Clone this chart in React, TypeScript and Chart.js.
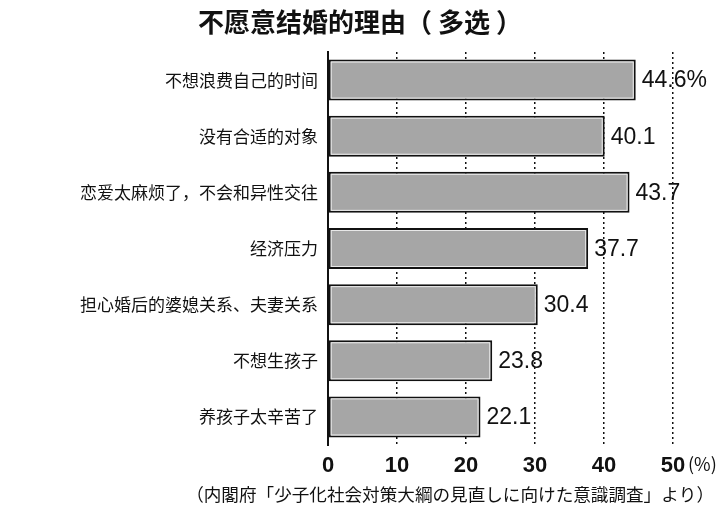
import React, { useEffect, useRef } from "react";
import { Chart, registerables } from "chart.js";

Chart.register(...registerables);

const titleText = "不愿意结婚的理由（ 多选 ）";
const sourceText = "（内閣府「少子化社会対策大綱の見直しに向けた意識調査」より）";

const reasons = [
  "不想浪费自己的时间",
  "没有合适的对象",
  "恋爱太麻烦了，不会和异性交往",
  "经济压力",
  "担心婚后的婆媳关系、夫妻关系",
  "不想生孩子",
  "养孩子太辛苦了",
];
const shares = [44.6, 40.1, 43.7, 37.7, 30.4, 23.8, 22.1];
const valueLabels = ["44.6%", "40.1", "43.7", "37.7", "30.4", "23.8", "22.1"];
const xTicks = [0, 10, 20, 30, 40, 50];

const CJK = "'Noto Sans CJK SC', 'Noto Sans', sans-serif";
const LATIN = "'Liberation Sans', Arial, sans-serif";

const decorations = {
  id: "decorations",
  afterDatasetsDraw(chart: Chart) {
    const ctx = chart.ctx;
    const meta = chart.getDatasetMeta(0);
    ctx.save();
    // thin light line just inside each bar's border
    ctx.strokeStyle = "rgba(255,255,255,0.75)";
    ctx.lineWidth = 1;
    meta.data.forEach((bar) => {
      const p = bar.getProps(["x", "y", "base", "height"], true) as {
        x: number; y: number; base: number; height: number;
      };
      const top = p.y - p.height / 2;
      ctx.strokeRect(p.base + 2.5, top + 2.5, p.x - p.base - 5, p.height - 5);
    });
    // value labels at bar ends
    ctx.font = `23px ${LATIN}`;
    ctx.fillStyle = "#111";
    ctx.textAlign = "left";
    ctx.textBaseline = "middle";
    meta.data.forEach((bar, i) => {
      const p = bar.getProps(["x", "y"], true) as { x: number; y: number };
      ctx.fillText(valueLabels[i], p.x + 6, p.y + 1);
    });
    ctx.restore();
  },
  afterDraw(chart: Chart) {
    const ctx = chart.ctx;
    const xs = chart.scales.x;
    ctx.save();
    ctx.fillStyle = "#111";
    ctx.textBaseline = "middle";
    ctx.textAlign = "center";
    ctx.font = `bold 26px ${CJK}`;
    ctx.fillText(titleText, 360, 22);
    ctx.font = `18px ${CJK}`;
    ctx.textAlign = "left";
    ctx.fillText("(%)", xs.getPixelForValue(50) + 15, 464);
    ctx.font = `17.6px 'Noto Sans CJK JP', ${CJK}`;
    ctx.textAlign = "right";
    ctx.fillText(sourceText, 714, 494);
    ctx.restore();
  },
};

export default function App(): React.ReactElement {
  const canvasRef = useRef<HTMLCanvasElement | null>(null);

  useEffect(() => {
    document.body.style.margin = "0";
    if (!canvasRef.current) return;
    const chart = new Chart(canvasRef.current, {
      type: "bar",
      data: {
        labels: reasons,
        datasets: [
          {
            data: shares,
            backgroundColor: "#a6a6a6",
            borderColor: "#111",
            borderWidth: 2,
            borderSkipped: false,
            barPercentage: 0.73,
            categoryPercentage: 1,
          },
        ],
      },
      options: {
        indexAxis: "y",
        responsive: false,
        animation: false,
        devicePixelRatio: 1,
        layout: { padding: { top: 52, right: 47, bottom: 0, left: 0 } },
        plugins: {
          legend: { display: false },
          tooltip: { enabled: false },
          title: { display: false },
        },
        scales: {
          x: {
            type: "linear",
            min: 0,
            max: 50,
            afterFit: (s) => {
              s.height = 68;
            },
            afterBuildTicks: (s) => {
              s.ticks = xTicks.map((v) => ({ value: v }));
            },
            border: { display: false, dash: [2, 3] },
            grid: {
              color: (c) => (c.tick && c.tick.value === 0 ? "rgba(0,0,0,0)" : "#111"),
              lineWidth: 1.5,
              drawTicks: false,
            },
            ticks: {
              color: "#111",
              padding: 8,
              font: { family: LATIN, size: 22, weight: "bold" },
            },
          },
          y: {
            type: "category",
            afterFit: (s) => {
              s.width = 328;
            },
            border: { display: true, color: "#111", width: 2 },
            grid: { display: false, drawTicks: false },
            ticks: {
              color: "#111",
              padding: 10,
              font: { family: CJK, size: 17 },
            },
          },
        },
      },
      plugins: [decorations],
    });
    return () => chart.destroy();
  }, []);

  return (
    <div style={{ width: 720, height: 513, background: "#fff" }}>
      <canvas ref={canvasRef} width={720} height={513} style={{ display: "block" }} />
    </div>
  );
}
